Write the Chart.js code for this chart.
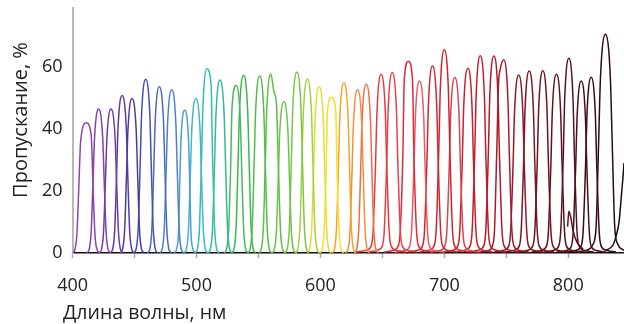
<!DOCTYPE html>
<html>
<head>
<meta charset="utf-8">
<script src="https://cdn.jsdelivr.net/npm/chart.js@4/dist/chart.umd.min.js"></script>
<style>
  html, body { margin: 0; padding: 0; background: #ffffff; }
  #wrap { width: 624px; height: 324px; }
</style>
</head>
<body>
<div id="wrap"><canvas id="c" width="624" height="324"></canvas></div>
<script>
// Axis labels and ticks
const xTitle = 'Длина волны, нм';
const yTitle = 'Пропускание, %';
const xTickLabels = [400, 500, 600, 700, 800];
const yTickLabels = [0, 20, 40, 60];

// Transmission curves: [wavelength nm, transmission %]
const f411 = [[400,0],[402,1.3],[403.5,6.3],[405,21],[406.5,36],[411,42],[415,38],[416.5,21],[418,6.3],[419.5,1.3],[422,0]];
const f421 = [[411.5,0],[413.5,1.4],[415,7],[416.5,23.2],[417.7,37.1],[421,46.4],[424.3,37.1],[425.5,23.2],[427,7],[428.5,1.4],[430.5,0]];
const f431 = [[421.5,0],[423.5,1.4],[425,7],[426.5,23.2],[427.7,37.1],[431,46.4],[434.3,37.1],[435.5,23.2],[437,7],[438.5,1.4],[440.5,0]];
const f440 = [[430.5,0],[432.5,1.5],[434,7.6],[435.5,25.4],[436.7,40.6],[440,50.8],[443.3,40.6],[444.5,25.4],[446,7.6],[447.5,1.5],[449.5,0]];
const f448 = [[438.5,0],[440.5,1.5],[442,7.5],[443.5,24.9],[444.7,39.8],[448,49.8],[451.3,39.8],[452.5,24.9],[454,7.5],[455.5,1.5],[457.5,0]];
const f459 = [[449.5,0],[451.5,1.7],[453,8.4],[454.5,28],[455.7,44.8],[459,56],[462.3,44.8],[463.5,28],[465,8.4],[466.5,1.7],[468.5,0]];
const f470 = [[460.5,0],[462.5,1.6],[464,8],[465.5,26.8],[466.7,42.9],[470,53.6],[473.3,42.9],[474.5,26.8],[476,8],[477.5,1.6],[479.5,0]];
const f480 = [[470.5,0],[472.5,1.6],[474,7.9],[475.5,26.3],[476.7,42.1],[480,52.6],[483.3,42.1],[484.5,26.3],[486,7.9],[487.5,1.6],[489.5,0]];
const f490 = [[482,0],[484,1.4],[485.5,6.9],[486.5,23],[487.5,36.8],[490.5,46],[493.5,36.8],[494.5,23],[495.5,6.9],[497,1.4],[499,0]];
const f500 = [[490,0],[492,1.5],[493.5,7.5],[495,24.9],[496.2,39.8],[499.5,49.8],[502.8,39.8],[504,24.9],[505.5,7.5],[507,1.5],[509,0]];
const f508 = [[499,0],[501,1.8],[502.5,8.9],[504,29.7],[505.2,47.5],[508.5,59.4],[511.8,54],[513,29.7],[514.5,8.9],[516,1.8],[518,0]];
const f519 = [[509.5,0],[511.5,1.7],[513,8.4],[514.5,27.9],[515.7,44.6],[519,55.8],[522.3,44.6],[523.5,27.9],[525,8.4],[526.5,1.7],[528.5,0]];
const f532 = [[522.5,0],[524.5,1.6],[526,8.1],[527.5,27],[528.7,47],[532,54],[535.3,43.2],[536.5,27],[538,8.1],[539.5,1.6],[541.5,0]];
const f538 = [[528.5,0],[530.5,1.7],[532,8.6],[533.5,28.7],[534.7,45.8],[538,57.3],[541.3,45.8],[542.5,28.7],[544,8.6],[545.5,1.7],[547.5,0]];
const f551 = [[541.5,0],[543.5,1.7],[545,8.6],[546.5,28.6],[547.7,45.7],[551,57.1],[554.3,45.7],[555.5,28.6],[557,8.6],[558.5,1.7],[560.5,0]];
const f560 = [[550.5,0],[552.5,1.7],[554,8.7],[555.5,28.9],[556.7,46.2],[560,57.7],[562.5,52],[564.5,48],[566.3,25],[567.8,7],[569.3,1.5],[571.3,0]];
const f571 = [[561,0],[563,1.5],[564.5,7.3],[566,24.4],[567.2,39],[570.5,48.8],[573.8,39],[575,24.4],[576.5,7.3],[578,1.5],[580,0]];
const f581 = [[571.5,0],[573.5,1.8],[575,8.8],[576.5,29.2],[577.7,46.7],[581,58.4],[584.3,46.7],[585.5,29.2],[587,8.8],[588.5,1.8],[590.5,0]];
const f590 = [[580,0],[582,1.7],[583.5,8.4],[585,28.1],[586.2,44.9],[589.5,56.1],[592.8,44.9],[594,28.1],[595.5,8.4],[597,1.7],[599,0]];
const f599 = [[589.5,0],[591.5,1.6],[593,8],[594.5,26.8],[595.7,42.9],[599,53.6],[602.3,42.9],[603.5,26.8],[605,8],[606.5,1.6],[608.5,0]];
const f609 = [[599.5,0],[601.5,1.5],[603,7.5],[604.5,25.1],[605.7,46],[609,50.2],[612.3,46],[613.5,25.1],[615,7.5],[616.5,1.5],[618.5,0]];
const f619 = [[609.5,0],[611.5,1.6],[613,8.2],[614.5,27.5],[615.7,43.9],[619,54.9],[622.3,43.9],[623.5,27.5],[625,8.2],[626.5,1.6],[628.5,0]];
const f630 = [[620.5,0],[622.5,1.6],[624,7.9],[625.5,26.3],[626.7,42.1],[630,52.6],[633.3,42.1],[634.5,26.3],[636,7.9],[637.5,1.6],[639.5,0]];
const f637 = [[627.5,0],[629.5,1.6],[631,8.2],[632.5,27.2],[633.7,43.5],[637,54.4],[640.3,43.5],[641.5,27.2],[643,8.2],[644.5,1.6],[646.5,0]];
const f649 = [[629,0.3],[637,0.9],[641,2.3],[642.5,6.9],[644.5,28.8],[645.7,46.1],[649,57.6],[652.3,46.1],[653.5,28.8],[655.5,6.9],[657,2.3],[661,0.9],[669,0.3]];
const f658 = [[638,0.3],[646,0.9],[650,2.3],[651.5,7.0],[653.5,29.1],[654.7,46.6],[658,58.2],[661.3,46.6],[662.5,29.1],[664.5,7.0],[666,2.3],[670,0.9],[678,0.3]];
const f671 = [[651,0.3],[659,0.9],[663,2.5],[664.5,7.4],[666.5,30.9],[667.7,56],[671,61.8],[674.3,56],[675.5,30.9],[677.5,7.4],[679,2.5],[683,0.9],[691,0.3]];
const f680 = [[660,0.3],[668,0.8],[672,2.2],[673.5,6.7],[675.5,27.8],[676.7,44.4],[680,55.5],[683.3,44.4],[684.5,27.8],[686.5,6.7],[688,2.2],[692,0.8],[700,0.3]];
const f690 = [[670.5,0.3],[678.5,0.9],[682.5,2.4],[684,7.2],[686,30.2],[687.2,48.2],[690.5,60.3],[693.8,48.2],[695,30.2],[697,7.2],[698.5,2.4],[702.5,0.9],[710.5,0.3]];
const f700 = [[680,0.3],[688,1.0],[692,2.6],[693.5,7.9],[695.5,32.8],[696.7,52.4],[700,65.5],[703.3,52.4],[704.5,32.8],[706.5,7.9],[708,2.6],[712,1.0],[720,0.3]];
const f708 = [[688.5,0.3],[696.5,0.8],[700.5,2.3],[702,6.8],[704,28.3],[705.2,45.3],[708.5,56.6],[711.8,45.3],[713,28.3],[715,6.8],[716.5,2.3],[720.5,0.8],[728.5,0.3]];
const f719 = [[699,0.3],[707,0.9],[711,2.4],[712.5,7.2],[714.5,29.8],[715.7,47.7],[719,59.6],[722.3,47.7],[723.5,29.8],[725.5,7.2],[727,2.4],[731,0.9],[739,0.3]];
const f729 = [[709,0.3],[717,1.0],[721,2.5],[722.5,7.6],[724.5,31.8],[725.7,50.9],[729,63.6],[732.3,50.9],[733.5,31.8],[735.5,7.6],[737,2.5],[741,1.0],[749,0.3]];
const f740 = [[720,0.3],[728,1.0],[732,2.5],[733.5,7.6],[735.5,31.8],[736.7,50.8],[740,63.5],[743.3,50.8],[744.5,31.8],[746.5,7.6],[748,2.5],[752,1.0],[760,0.3]];
const f748 = [[728,0.3],[736,0.9],[739,2.5],[740.5,7.5],[742.2,31],[743.8,55],[745,59],[748,62.3],[751.3,49.8],[752.5,31.2],[754.5,7.5],[756,2.5],[760,0.9],[768,0.3]];
const f760 = [[740,0.3],[748,0.9],[752,2.3],[753.5,6.9],[755.5,28.7],[756.7,45.9],[760,57.4],[763.3,45.9],[764.5,28.7],[766.5,6.9],[768,2.3],[772,0.9],[780,0.3]];
const f768 = [[748.5,0.3],[756.5,0.9],[760.5,2.3],[762,7.0],[764,29.4],[765.2,47],[768.5,58.7],[771.8,47],[773,29.4],[775,7.0],[776.5,2.3],[780.5,0.9],[788.5,0.3]];
const f780 = [[759.5,0.3],[767.5,0.9],[771.5,2.4],[773,7.1],[775,29.4],[776.2,47],[779.5,58.8],[782.8,47],[784,29.4],[786,7.1],[787.5,2.4],[791.5,0.9],[799.5,0.3]];
const f790 = [[770.5,0.3],[778.5,0.9],[782.5,2.3],[784,6.9],[786,28.8],[787.2,46.1],[790.5,57.6],[793.8,46.1],[795,28.8],[797,6.9],[798.5,2.3],[802.5,0.9],[810.5,0.3]];
const f800 = [[780.5,0.3],[788.5,0.9],[792.5,2.5],[794,7.5],[796,31.4],[797.2,50.2],[800.5,62.8],[803.8,50.2],[805,31.4],[807,7.5],[808.5,2.5],[812.5,0.9],[820.5,0.3]];
const f810 = [[790.5,0.3],[798.5,0.8],[802.5,2.2],[804,6.7],[806,27.8],[807.2,44.4],[810.5,55.5],[813.8,44.4],[815,27.8],[817,6.7],[818.5,2.2],[822.5,0.8],[830.5,0.3]];
const f818 = [[798.5,0.3],[806.5,0.9],[810.5,2.3],[812,6.8],[814,28.4],[815.2,45.4],[818.5,56.7],[821.8,45.4],[823,28.4],[825,6.8],[826.5,2.3],[830.5,0.9],[838.5,0.3]];
const f830 = [[808,0.4],[816,1.1],[820,2.8],[822.5,8.5],[824.5,35.3],[826,56.4],[830,70.5],[834,56.4],[835.5,35.3],[837.5,8.5],[840,2.8],[844,1.1],[852,0.4]];
const f850 = [[830,0.8],[836,2.5],[839,6],[841,10],[843,19],[845,29],[847,45],[850,60],[853,62]];
const bump800 = [[799.5,8.5],[800.5,13.5],[802,11.5],[804,7],[807,3.5],[812,1.2]];

const curves = [f411,f421,f431,f440,f448,f459,f470,f480,f490,f500,f508,f519,f532,f538,f551,f560,f571,f581,f590,f599,f609,f619,f630,f637,
  f649,f658,f671,f680,f690,f700,f708,f719,f729,f740,f748,f760,f768,f780,f790,f800,f810,f818,f830,f850,bump800];
const curveColors = ['#8f43b3','#8140ad','#7038a8','#5e37a3','#4d3a9f','#4150b2','#4a69c2','#4c80cc','#4f9bd8','#3eb8cb',
  '#30bfae','#33b994','#4ab85f','#3db74c','#55bb4a','#5dbf45','#6cc34c','#7bc545','#a5cf3c','#e2df2c','#f4e12c','#f7a326',
  '#f48e3c','#ef6c40','#e8383d','#e6414a','#e02b37','#ea5a62','#d4262f','#d4202d','#d34750','#c9202c','#c21d2a','#b51827',
  '#a71b29','#8e1b26','#7c1520','#6d131d','#5f1219','#581020','#4a0f16','#3c0c12','#2b0a0d','#151112','#5a1020'];

const datasets = curves.map((pts, i) => ({
  data: pts.map(p => ({x: p[0], y: p[1]})),
  borderColor: curveColors[i],
  borderWidth: 1.5,
  pointRadius: 0,
  fill: false,
  cubicInterpolationMode: 'monotone'
}));

const FONT = '"Open Sans", "DejaVu Sans", sans-serif';

// Axis titles placed where the reference shows them
const axisTitles = {
  id: 'axisTitles',
  afterDraw(chart) {
    const ctx = chart.ctx;
    ctx.save();
    ctx.fillStyle = '#222222';
    ctx.font = '19.5px ' + FONT;
    ctx.textAlign = 'left';
    ctx.textBaseline = 'alphabetic';
    ctx.fillText(xTitle, 63, 319);
    ctx.translate(27, 120);
    ctx.rotate(-Math.PI / 2);
    ctx.textAlign = 'center';
    ctx.font = '20px ' + FONT;
    ctx.fillText(yTitle, 0, 0);
    ctx.restore();
  }
};

new Chart(document.getElementById('c'), {
  type: 'line',
  data: { datasets },
  plugins: [axisTitles],
  options: {
    responsive: false,
    devicePixelRatio: 1,
    animation: false,
    events: [],
    layout: { padding: { top: 8, right: 0, bottom: 0, left: 0 } },
    plugins: { legend: { display: false }, tooltip: { enabled: false } },
    scales: {
      x: {
        type: 'linear',
        min: 400, max: 845,
        border: { display: true, color: '#111111', width: 1.6 },
        grid: { display: true, drawOnChartArea: false, drawTicks: true, tickLength: 5, tickColor: '#a8a8a8', tickWidth: 1.5 },
        ticks: {
          stepSize: 50, includeBounds: false, autoSkip: false, maxRotation: 0,
          padding: 17, color: '#222222',
          font: { family: FONT, size: 18 },
          callback: v => xTickLabels.includes(v) ? String(v) : ''
        },
        afterFit: s => { s.height = 71; s.paddingLeft = 0; s.paddingRight = 0; }
      },
      y: {
        min: 0, max: 79,
        border: { display: true, color: '#b8b8b8', width: 2 },
        grid: { display: true, drawOnChartArea: false, drawTicks: false },
        ticks: {
          stepSize: 20, includeBounds: false, padding: 10, color: '#222222',
          font: { family: FONT, size: 18 },
          callback: v => yTickLabels.includes(v) ? String(v) : ''
        },
        afterFit: s => { s.width = 72.6; s.paddingTop = 0; s.paddingBottom = 0; }
      }
    }
  }
});
</script>
</body>
</html>
